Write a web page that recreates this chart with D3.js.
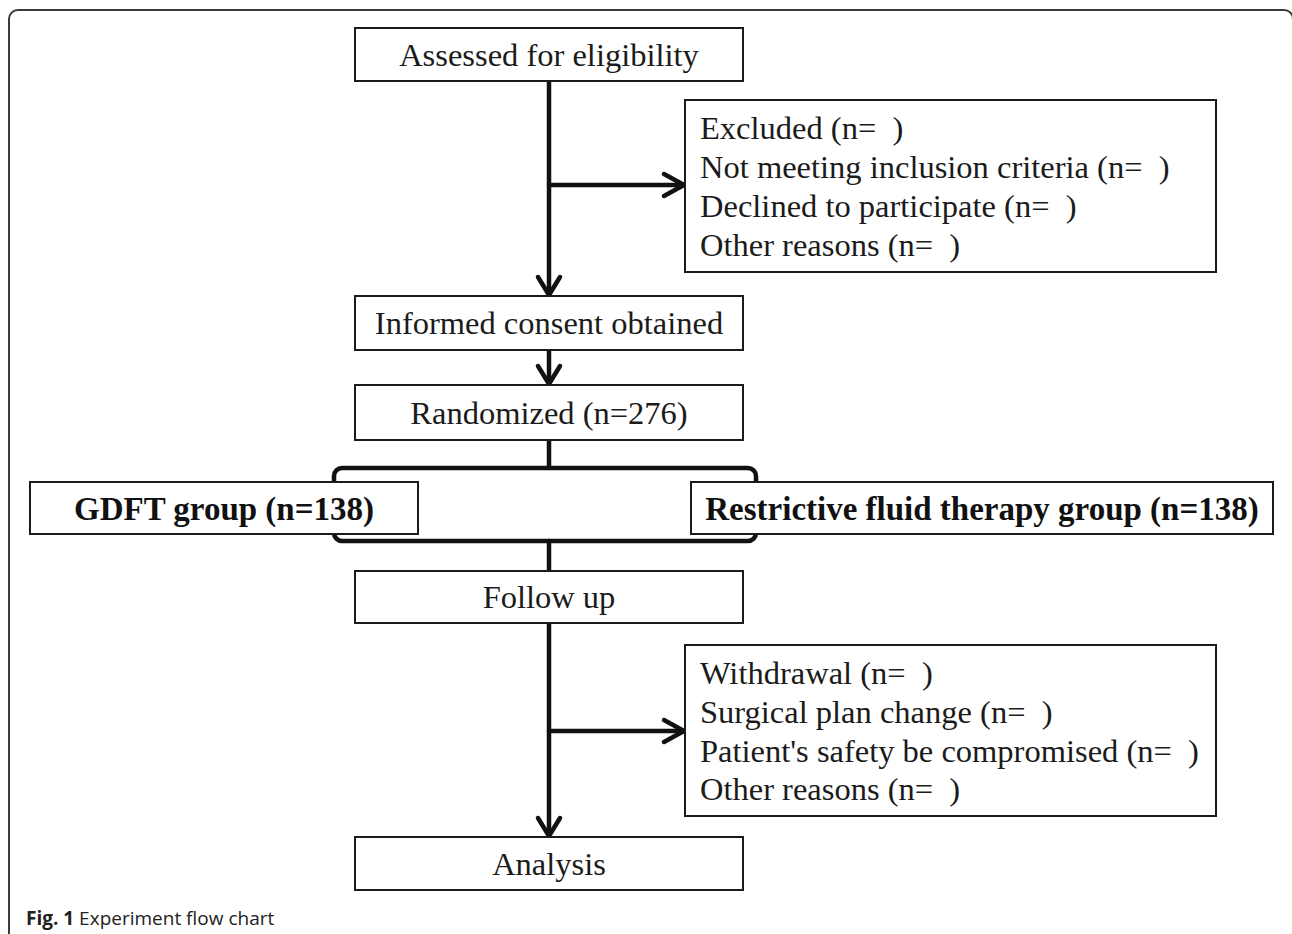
<!DOCTYPE html>
<html>
<head>
<meta charset="utf-8">
<script src="https://cdn.jsdelivr.net/npm/d3@7"></script>
<style>
  html, body { margin: 0; padding: 0; background: #fff; }
  svg { display: block; }
</style>
</head>
<body>
<svg id="chart"></svg>
<script>
// flow chart content
const mainSteps = ["Assessed for eligibility", "Informed consent obtained", "Randomized (n=276)", "Follow up", "Analysis"];
const groups = ["GDFT group (n=138)", "Restrictive fluid therapy group (n=138)"];
const excludedLines = ["Excluded (n=  )", "Not meeting inclusion criteria (n=  )", "Declined to participate (n=  )", "Other reasons (n=  )"];
const withdrawnLines = ["Withdrawal (n=  )", "Surgical plan change (n=  )", "Patient's safety be compromised (n=  )", "Other reasons (n=  )"];
const captionBold = "Fig. 1";
const captionText = " Experiment flow chart";

const W = 1292, H = 934;
const svg = d3.select("#chart").attr("width", W).attr("height", H);

// layout (pixel positions of the boxes)
const mainX = [355, 743];
const mainY = [[28, 81], [296, 350], [385, 440], [571, 623], [837, 890]];
const groupX = [[30, 418], [691, 1273]];
const groupY = [482, 534];
const sideX = [685, 1216];
const sideY = [[100, 272], [645, 816]];
const cx = (mainX[0] + mainX[1]) / 2;

const serif = "'Liberation Serif', 'Times New Roman', serif";
const ink = "#1b1b1b";
const fs = 32.5;

// outer frame (right and bottom edges fall outside the picture)
svg.append("rect")
  .attr("x", 9).attr("y", 10)
  .attr("width", 1284).attr("height", 960)
  .attr("rx", 9)
  .attr("fill", "none")
  .attr("stroke", "#3a3a3a")
  .attr("stroke-width", 2);

const lines = svg.append("g")
  .attr("fill", "none")
  .attr("stroke", "#111")
  .attr("stroke-width", 4.5)
  .attr("stroke-linecap", "round")
  .attr("stroke-linejoin", "round");

function arrowDown(x, y0, y1) {
  lines.append("path").attr("d", `M${x},${y0}V${y1 - 1}`);
  lines.append("path").attr("d", `M${x - 11},${y1 - 19}L${x},${y1 - 1}L${x + 11},${y1 - 19}`);
}
function arrowRight(y, x0, x1) {
  lines.append("path").attr("d", `M${x0},${y}H${x1 - 1}`);
  lines.append("path").attr("d", `M${x1 - 21},${y - 11}L${x1 - 1},${y}L${x1 - 21},${y + 11}`);
}

arrowDown(cx, mainY[0][1], mainY[1][0]);
arrowRight(185, cx, sideX[0]);
arrowDown(cx, mainY[1][1], mainY[2][0]);
lines.append("path").attr("d", `M${cx},${mainY[2][1]}V468`);
// bracket behind the group boxes
lines.append("rect")
  .attr("x", 334).attr("y", 468)
  .attr("width", 422).attr("height", 73)
  .attr("rx", 8);
lines.append("path").attr("d", `M${cx},541V${mainY[3][0]}`);
arrowDown(cx, mainY[3][1], mainY[4][0]);
arrowRight(731, cx, sideX[0]);

const boxes = svg.append("g");

function box(x0, x1, y0, y1) {
  boxes.append("rect")
    .attr("x", x0).attr("y", y0)
    .attr("width", x1 - x0).attr("height", y1 - y0)
    .attr("fill", "#fff")
    .attr("stroke", ink)
    .attr("stroke-width", 2);
}

mainSteps.forEach((label, i) => {
  box(mainX[0], mainX[1], mainY[i][0], mainY[i][1]);
  boxes.append("text")
    .attr("x", cx)
    .attr("y", (mainY[i][0] + mainY[i][1]) / 2)
    .attr("dy", "0.35em")
    .attr("text-anchor", "middle")
    .attr("font-family", serif)
    .attr("font-size", fs)
    .attr("fill", ink)
    .text(label);
});

groups.forEach((label, i) => {
  box(groupX[i][0], groupX[i][1], groupY[0], groupY[1]);
  boxes.append("text")
    .attr("x", (groupX[i][0] + groupX[i][1]) / 2)
    .attr("y", (groupY[0] + groupY[1]) / 2)
    .attr("dy", "0.35em")
    .attr("text-anchor", "middle")
    .attr("font-family", serif)
    .attr("font-weight", "bold")
    .attr("font-size", 33)
    .attr("fill", "#111")
    .text(label);
});

[excludedLines, withdrawnLines].forEach((rows, k) => {
  box(sideX[0], sideX[1], sideY[k][0], sideY[k][1]);
  const yRow = d3.scalePoint()
    .domain(d3.range(rows.length))
    .range([sideY[k][0] + 28, sideY[k][1] - 27]);
  boxes.append("g").selectAll("text")
    .data(rows)
    .join("text")
    .attr("x", sideX[0] + 15)
    .attr("y", (d, j) => yRow(j))
    .attr("dy", "0.35em")
    .attr("font-family", serif)
    .attr("font-size", fs)
    .attr("fill", ink)
    .attr("xml:space", "preserve")
    .style("white-space", "pre")
    .text(d => d);
});

// caption
const cap = svg.append("text")
  .attr("x", 26).attr("y", 925)
  .attr("font-family", "'Open Sans', 'Noto Sans', sans-serif")
  .attr("font-size", 19)
  .attr("fill", "#222");
cap.append("tspan").attr("font-weight", "bold").text(captionBold);
cap.append("tspan").text(captionText);
</script>
</body>
</html>
